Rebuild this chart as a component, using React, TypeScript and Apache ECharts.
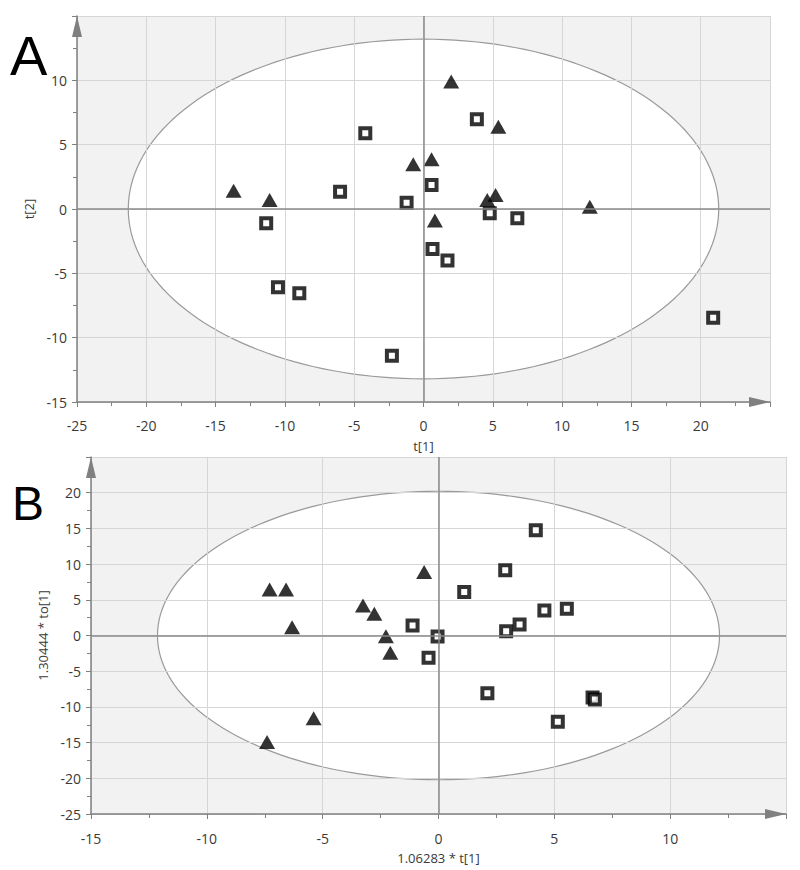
import React, { useEffect, useRef } from "react";
import * as echarts from "echarts";

// Panel A: t[1] vs t[2]
const aTriX = [2.0, 5.4, -0.74, 0.58, 4.6, 5.2, 0.82, 12.0, -13.7, -11.1];
const aTriY = [9.9, 6.4, 3.47, 3.86, 0.7, 1.08, -0.9, 0.18, 1.42, 0.7];
const aSqX = [-4.2, -6.02, -11.35, -10.5, -8.96, -2.28, 3.85, 0.58, -1.22, 4.78, 6.77, 0.65, 1.73, 20.9];
const aSqY = [5.88, 1.35, -1.11, -6.08, -6.55, -11.4, 6.97, 1.86, 0.49, -0.34, -0.72, -3.1, -4.0, -8.45];

// Panel B: 1.06283*t[1] vs 1.30444*to[1]
const bTriX = [-7.29, -6.58, -6.32, -3.26, -2.77, -2.27, -2.08, -0.62, -5.39, -7.4];
const bTriY = [6.46, 6.46, 1.17, 4.21, 3.05, -0.1, -2.43, 8.89, -11.6, -14.9];
const bSqX = [4.2, 2.88, 1.11, -1.12, -0.04, 2.92, 3.5, 4.57, 5.54, -0.43, 2.11, 5.15, 6.65, 6.75];
const bSqY = [14.75, 9.13, 6.09, 1.4, -0.14, 0.61, 1.54, 3.51, 3.74, -3.13, -8.1, -12.08, -8.7, -8.95];

// Hotelling T2 ellipse semi-axes [x, y]
const ellipseA = [21.3, 13.2];
const ellipseB = [12.13, 20.2];

// Axis ranges
const aXRange = [-25, 25];
const aYRange = [-15, 15];
const bXRange = [-15, 15];
const bYRange = [-25, 25];

const zip = (xs: number[], ys: number[]) => xs.map((x, i) => [x, ys[i]]);

const labelStyle = { fontFamily: "Open Sans", fontSize: 14, color: "#3a3a3a" };
const axisColor = "#808080";

function makeAxis(range: number[], gridIndex: number, name: string, nameGap: number, margin: number) {
  return {
    type: "value",
    gridIndex,
    min: range[0],
    max: range[1],
    interval: 5,
    name,
    nameLocation: "middle",
    nameGap,
    nameTextStyle: { fontFamily: "Open Sans", fontSize: 13, color: "#3a3a3a" },
    axisLine: {
      show: true,
      onZero: false,
      symbol: ["none", "triangle"],
      symbolSize: [10, 21],
      symbolOffset: [0, -10.5],
      lineStyle: { color: axisColor, width: 1.5 },
    },
    axisTick: { show: true, length: 5, lineStyle: { color: axisColor } },
    minorTick: { show: true, splitNumber: 2, length: 4, lineStyle: { color: axisColor } },
    axisLabel: { ...labelStyle, margin, showMaxLabel: false },
    splitLine: { show: true, lineStyle: { color: "#d6d6d6", width: 1 } },
    minorSplitLine: { show: false },
  };
}

function ellipseRender(params: any, api: any) {
  const cs = params.coordSys;
  const a = api.value(0);
  const b = api.value(1);
  const pts: number[][] = [];
  const n = 180;
  for (let i = 0; i <= n; i++) {
    const t = (i / n) * Math.PI * 2;
    pts.push(api.coord([a * Math.cos(t), b * Math.sin(t)]));
  }
  return {
    type: "group",
    children: [
      {
        type: "rect",
        shape: { x: cs.x, y: cs.y, width: cs.width, height: cs.height },
        style: { fill: "#f2f2f2" },
      },
      {
        type: "polygon",
        shape: { points: pts },
        style: { fill: "#ffffff", stroke: "#9a9a9a", lineWidth: 1.2 },
      },
    ],
  };
}

const squareStyle = { color: "#ffffff", borderColor: "#000000", borderWidth: 4 };

function scatterSeries(data: number[][], gi: number, kind: "tri" | "sq") {
  return {
    type: "scatter",
    xAxisIndex: gi,
    yAxisIndex: gi,
    z: 3,
    data,
    symbol: kind === "tri" ? "triangle" : "rect",
    symbolSize: kind === "tri" ? [16, 14] : 10,
    itemStyle: kind === "tri" ? { color: "#000000" } : squareStyle,
    silent: true,
  };
}

function zeroLines(gi: number) {
  return {
    type: "scatter",
    xAxisIndex: gi,
    yAxisIndex: gi,
    z: 1,
    data: [],
    markLine: {
      silent: true,
      symbol: ["none", "none"],
      label: { show: false },
      lineStyle: { color: "#8a8a8a", width: 1.5, type: "solid" },
      data: [{ xAxis: 0 }, { yAxis: 0 }],
    },
  };
}

export default function App() {
  const ref = useRef<HTMLDivElement>(null);
  useEffect(() => {
    if (!ref.current) return;
    const chart = echarts.init(ref.current, null, { renderer: "svg" });
    chart.setOption({
      animation: false,
      backgroundColor: "#ffffff",
      grid: [
        { left: 77, top: 16, width: 693, height: 386, show: false },
        { left: 91, top: 457, width: 695, height: 357, show: false },
      ],
      xAxis: [
        makeAxis(aXRange, 0, "t[1]", 37, 16),
        makeAxis(bXRange, 1, "1.06283 * t[1]", 37, 17),
      ],
      yAxis: [
        makeAxis(aYRange, 0, "t[2]", 35, 10),
        makeAxis(bYRange, 1, "1.30444 * to[1]", 37, 10),
      ],
      graphic: [
        {
          type: "text",
          x: 10,
          y: 55,
          style: { text: "A", fontSize: 56, fontFamily: "Liberation Sans", fill: "#000", align: "left", verticalAlign: "middle" },
        },
        {
          type: "text",
          x: 12,
          y: 503,
          style: { text: "B", fontSize: 48, fontFamily: "Liberation Sans", fill: "#000", align: "left", verticalAlign: "middle" },
        },
      ],
      series: [
        {
          type: "custom",
          xAxisIndex: 0,
          yAxisIndex: 0,
          z: -1,
          silent: true,
          clip: false,
          data: [ellipseA],
          renderItem: ellipseRender,
        },
        {
          type: "custom",
          xAxisIndex: 1,
          yAxisIndex: 1,
          z: -1,
          silent: true,
          clip: false,
          data: [ellipseB],
          renderItem: ellipseRender,
        },
        zeroLines(0),
        zeroLines(1),
        scatterSeries(zip(aTriX, aTriY), 0, "tri"),
        scatterSeries(zip(aSqX, aSqY), 0, "sq"),
        scatterSeries(zip(bTriX, bTriY), 1, "tri"),
        scatterSeries(zip(bSqX, bSqY), 1, "sq"),
      ],
    });
    return () => chart.dispose();
  }, []);
  return <div ref={ref} style={{ position: "absolute", left: 0, top: 0, width: 800, height: 870 }} />;
}
